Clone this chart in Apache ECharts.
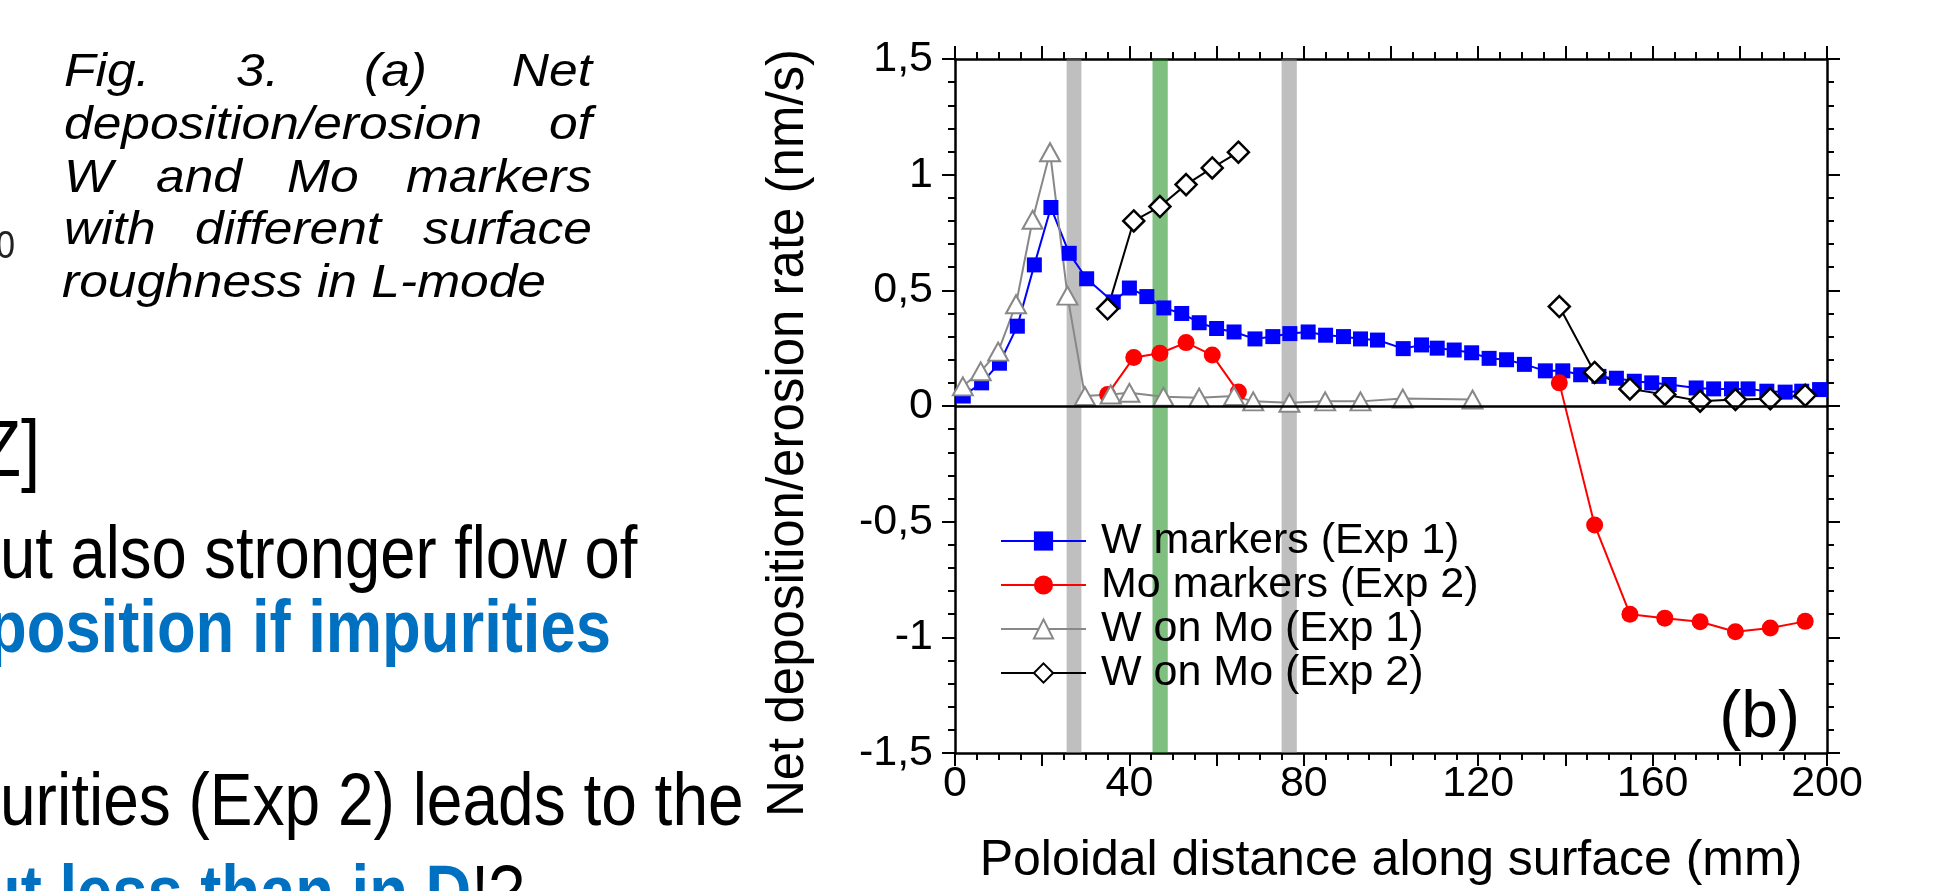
<!DOCTYPE html>
<html>
<head>
<meta charset="utf-8">
<script src="https://cdn.jsdelivr.net/npm/echarts@6/dist/echarts.min.js"></script>
<style>
  html, body { margin: 0; padding: 0; background: #fff; }
  #mychart { width: 1934px; height: 891px; }
</style>
</head>
<body>
<div id="mychart"></div>
<script>
// W markers (Exp 1)
var wX = [1.9, 6.1, 10.2, 14.3, 18.2, 22.0, 26.2, 30.2, 36.3, 40.0, 44.0, 47.9, 52.0, 56.0, 60.0, 64.0, 68.8, 72.9, 76.8, 81.0,
    85.0, 89.1, 93.0, 96.9, 102.8, 107.0, 110.6, 114.5, 118.5, 122.5, 126.5, 130.6, 135.4, 139.4, 143.5, 147.7, 151.7, 155.8,
    159.8, 163.8, 170.0, 174.0, 178.1, 181.9, 186.2, 190.4, 194.2, 198.3];
var wY = [0.043, 0.10, 0.185, 0.345, 0.61, 0.858, 0.66, 0.55, 0.45, 0.51, 0.473, 0.424, 0.40, 0.36, 0.335, 0.32, 0.29, 0.30, 0.313, 0.32,
    0.306, 0.30, 0.29, 0.285, 0.248, 0.264, 0.25, 0.242, 0.23, 0.206, 0.20, 0.18, 0.152, 0.152, 0.135, 0.128, 0.12, 0.107,
    0.10, 0.093, 0.078, 0.074, 0.074, 0.074, 0.064, 0.06, 0.064, 0.071];

// W on Mo (Exp 1)
var gX = [1.8, 5.9, 9.9, 14.0, 17.8, 21.8, 25.8, 29.8, 35.7, 40.0, 47.8, 56.0, 64.0, 68.4, 76.7, 84.9, 93.0, 102.7, 118.7];
var gY = [0.085, 0.15, 0.235, 0.44, 0.805, 1.097, 0.477, 0.043, 0.05, 0.057, 0.04, 0.036, 0.043, 0.02, 0.014, 0.02, 0.02, 0.032, 0.028];

// Exp 2 positions (two groups, null = no line between them)
var exp2X = [35.0, 41.0, 47.0, 53.0, 59.0, 65.0, 100, 138.6, 146.7, 154.8, 162.8, 170.9, 179.0, 187.0, 195.0];
// Mo markers (Exp 2)
var moY = [0.05, 0.21, 0.228, 0.274, 0.22, 0.06, null, 0.10, -0.514, -0.90, -0.917, -0.933, -0.976, -0.96, -0.931];
// W on Mo (Exp 2)
var dY = [0.42, 0.80, 0.862, 0.957, 1.029, 1.097, null, 0.43, 0.145, 0.074, 0.05, 0.021, 0.028, 0.031, 0.046];

// vertical bands [from, to] in mm
var grayBands = [[25.6, 29.0], [74.9, 78.4]];
var greenBands = [[45.3, 48.8]];

var names = ['W markers (Exp 1)', 'Mo markers (Exp 2)', 'W on Mo (Exp 1)', 'W on Mo (Exp 2)'];

var FONT = '"Liberation Sans", Arial, sans-serif';

function pairs(xs, ys) {
    return xs.map(function (x, i) {
        return ys[i] === null ? [x, '-'] : [x, ys[i]];
    });
}

function band(list, color) {
    return list.map(function (b) {
        return [{xAxis: b[0], itemStyle: {color: color}}, {xAxis: b[1]}];
    });
}

var axisCommon = {
    type: 'value',
    axisLine: {onZero: false, lineStyle: {color: '#000', width: 2.5}},
    axisTick: {length: 13, lineStyle: {color: '#000', width: 2}},
    minorTick: {show: true, length: 7, lineStyle: {color: '#000', width: 2}},
    splitLine: {show: false},
    minorSplitLine: {show: false}
};

function axis(extra) {
    return echarts.util.merge(echarts.util.clone(axisCommon), extra, true);
}

// slide text around the figure (stretched/condensed like the source picture)
function txt(x, y, text, font, sx, align, fill) {
    return {
        type: 'text', x: x, y: y, scaleX: sx, silent: true,
        style: {text: text, font: font + ' ' + FONT, fill: fill || '#000', align: align || 'left'}
    };
}

var CAP = 'italic 46px';
var CSX = 1.12;
var BODY = '74px';

var option = {
    animation: false,
    backgroundColor: '#fff',
    grid: {left: 955, top: 59, width: 872, height: 701},
    title: {
        text: '(b)',
        right: 134,
        top: 686,
        padding: 0,
        textStyle: {fontFamily: FONT, fontSize: 66, fontWeight: 'normal', color: '#000'}
    },
    legend: {
        orient: 'vertical',
        left: 1000,
        top: 519,
        itemWidth: 85,
        itemHeight: 24,
        itemGap: 0,
        padding: 0,
        textStyle: {fontFamily: FONT, fontSize: 43, color: '#000', lineHeight: 44, padding: [0, 0, 0, 10]},
        data: names
    },
    xAxis: [
        axis({
            min: 0, max: 200, interval: 20, position: 'bottom',
            minorTick: {splitNumber: 4},
            axisLabel: {
                fontFamily: FONT, fontSize: 43, color: '#000', margin: 10,
                formatter: function (v) { return v % 40 === 0 ? String(v) : ''; }
            },
            name: 'Poloidal distance along surface (mm)',
            nameLocation: 'middle',
            nameGap: 83,
            nameTextStyle: {fontFamily: FONT, fontSize: 50, color: '#000'}
        }),
        axis({
            min: 0, max: 200, interval: 20, position: 'top',
            minorTick: {splitNumber: 4},
            axisLabel: {show: false}
        })
    ],
    yAxis: [
        axis({
            min: -1.5, max: 1.5, interval: 0.5, position: 'left',
            minorTick: {splitNumber: 5},
            axisLabel: {
                fontFamily: FONT, fontSize: 43, color: '#000', margin: 22,
                formatter: function (v) { return String(v).replace('.', ','); }
            },
            name: 'Net deposition/erosion rate (nm/s)',
            nameLocation: 'middle',
            nameGap: 141,
            nameTextStyle: {fontFamily: FONT, fontSize: 51, color: '#000', padding: [0, 54, 0, 0]}
        }),
        axis({
            min: -1.5, max: 1.5, interval: 0.5, position: 'right',
            minorTick: {splitNumber: 5},
            axisLabel: {show: false}
        })
    ],
    series: [
        {
            name: names[0],
            type: 'line',
            data: pairs(wX, wY),
            symbol: 'rect',
            symbolSize: 15,
            itemStyle: {color: '#0000ff'},
            lineStyle: {color: '#0000ff', width: 2},
            markLine: {
                silent: true,
                symbol: 'none',
                label: {show: false},
                lineStyle: {color: '#000', width: 2.5, type: 'solid'},
                data: [{yAxis: 0}]
            }
        },
        {
            name: names[1],
            type: 'line',
            data: pairs(exp2X, moY),
            symbol: 'circle',
            symbolSize: 17,
            itemStyle: {color: '#ff0000'},
            lineStyle: {color: '#ff0000', width: 2}
        },
        {
            name: names[2],
            type: 'line',
            data: pairs(gX, gY),
            symbol: 'triangle',
            symbolSize: [20, 18],
            itemStyle: {color: '#ffffff', borderColor: '#888888', borderWidth: 2},
            lineStyle: {color: '#888888', width: 2}
        },
        {
            name: names[3],
            type: 'line',
            data: pairs(exp2X, dY),
            symbol: 'diamond',
            symbolSize: 21,
            itemStyle: {color: '#ffffff', borderColor: '#000000', borderWidth: 2.5},
            lineStyle: {color: '#000000', width: 2}
        },
        {
            name: 'bands',
            type: 'line',
            data: [],
            z: 10,
            markArea: {
                silent: true,
                data: band(grayBands, 'rgba(128,128,128,0.5)').concat(band(greenBands, 'rgba(0,128,0,0.5)'))
            }
        }
    ],
    graphic: [
        // figure caption, justified
        txt(64, 50, 'Fig.', CAP, CSX),
        txt(236, 50, '3.', CAP, CSX),
        txt(364, 50, '(a)', CAP, CSX),
        txt(592, 50, 'Net', CAP, CSX, 'right'),
        txt(64, 103, 'deposition/erosion', CAP, CSX),
        txt(592, 103, 'of', CAP, CSX, 'right'),
        txt(64, 156, 'W', CAP, CSX),
        txt(156, 156, 'and', CAP, CSX),
        txt(287, 156, 'Mo', CAP, CSX),
        txt(592, 156, 'markers', CAP, CSX, 'right'),
        txt(-4, 229, '0', '38px', 0.9, 'left', '#222'),
        txt(64, 208, 'with', CAP, CSX),
        txt(195, 208, 'different', CAP, CSX),
        txt(592, 208, 'surface', CAP, CSX, 'right'),
        txt(62, 261, 'roughness in L-mode', CAP, CSX),
        // slide body text, cut at the left edge
        txt(-21, 414, 'Z]', '80px', 0.86),
        txt(0, 521, 'ut also stronger flow of', BODY, 0.856),
        txt(-12, 595, 'position if impurities', 'bold ' + BODY, 0.856, 'left', '#0070c0'),
        txt(0, 768, 'urities (Exp 2) leads to the', BODY, 0.865),
        {
            type: 'text', x: -18, y: 860, scaleX: 0.856, silent: true,
            style: {
                text: '{b|ut less than in D}{n|!?}',
                rich: {
                    b: {font: 'bold ' + BODY + ' ' + FONT, fill: '#0070c0'},
                    n: {font: BODY + ' ' + FONT, fill: '#000'}
                }
            }
        }
    ]
};

var mychart = echarts.init(document.getElementById('mychart'));
mychart.setOption(option);
</script>
</body>
</html>
